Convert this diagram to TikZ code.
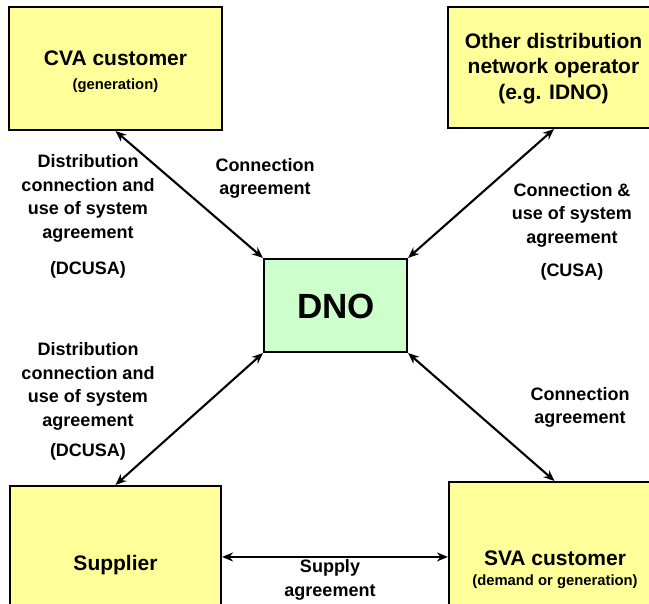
\documentclass[tikz,border=0pt]{standalone}
\usepackage{fontspec}
\setmainfont{Liberation Sans}
\usetikzlibrary{arrows.meta}
\definecolor{boxyellow}{RGB}{255,255,153}
\definecolor{boxgreen}{RGB}{204,255,204}
\begin{document}
\begin{tikzpicture}[x=1pt,y=-1pt,
  box/.style={draw=black,line width=2.1pt,rectangle,inner sep=0pt},
  ybox/.style={box,fill=boxyellow},
  gbox/.style={box,fill=boxgreen},
  lbl/.style={align=center,inner sep=0pt,font=\bfseries\fontsize{18}{23.5}\selectfont},
  ttl/.style={align=center,inner sep=0pt,font=\bfseries\fontsize{21}{25.5}\selectfont},
  sml/.style={align=center,inner sep=0pt,font=\bfseries\fontsize{14.8}{17}\selectfont},
  arr/.style={line width=2.1pt,{Stealth[length=11pt,width=9pt]}-{Stealth[length=11pt,width=9pt]}}
]
\clip (0,0) rectangle (649,604);
\fill[white] (0,0) rectangle (649,604);
% boxes
\node[ybox,minimum width=213pt,minimum height=123pt] (cva) at (115.5,68.5) {};
\node[ybox,minimum width=212pt,minimum height=121pt] (idno) at (554,67.5) {};
\node[gbox,minimum width=143pt,minimum height=93pt] (dno) at (335.5,305.5) {};
\node[ybox,minimum width=211pt,minimum height=160pt] (sup) at (115.5,566) {};
\node[ybox,minimum width=211pt,minimum height=168pt] (sva) at (554.5,566) {};
% box texts
\node[ttl] (cvaT) at (115.5,58) {CVA customer};
\node[sml] (cvaS) at (115.5,86) {(generation)};
\node[ttl] (idnoT) at (553.5,68.5) {Other distribution\\network operator\\(e.g. IDNO)};
\node[inner sep=0pt,font=\bfseries\fontsize{35}{40}\selectfont] (dnoT) at (336,306) {DNO};
\node[ttl] (supT) at (115.5,565) {Supplier};
\node[ttl] (svaT) at (555,558) {SVA customer};
\node[sml] (svaS) at (555,582) {(demand or generation)};
% connectors
\draw[arr] (cva.south) -- (dno.north west);
\draw[arr] (idno.south) -- (dno.north east);
\draw[arr] (sup.north) -- (dno.south west);
\draw[arr] (sva.north) -- (dno.south east);
\draw[arr] ([yshift=-72pt]sup.north east) -- ([yshift=-76pt]sva.north west);
% labels
\node[lbl] (l1) at (88,198.5) {Distribution\\connection and\\use of system\\agreement};
\node[lbl] (l1b) at (88,270) {(DCUSA)};
\node[lbl] (l2) at (265,178.5) {Connection\\agreement};
\node[lbl] (l3) at (572,215) {Connection \&\\use of system\\agreement};
\node[lbl] (l3b) at (572,272) {(CUSA)};
\node[lbl] (l4) at (88,386.5) {Distribution\\connection and\\use of system\\agreement};
\node[lbl] (l4b) at (88,452) {(DCUSA)};
\node[lbl] (l5) at (580,407.5) {Connection\\agreement};
\node[lbl] (l6) at (330,580) {Supply\\agreement};
\end{tikzpicture}
\end{document}
